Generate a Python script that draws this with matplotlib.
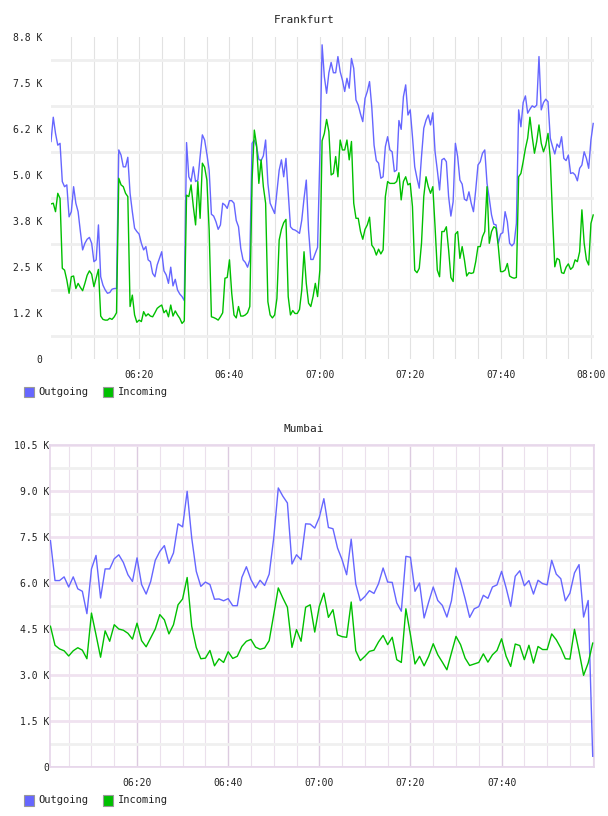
import numpy as np
import pandas as pd
import matplotlib
matplotlib.use("Agg")
import matplotlib.pyplot as plt
import matplotlib.dates as mdates
from matplotlib.patches import Rectangle

# Frankfurt traffic, one sample every 30 s from 06:00:30, values in K
frankfurt_out = [
    5.91, 6.57, 6.13, 5.81, 5.86, 4.82, 4.68, 4.73, 3.86, 4.00,
    4.68, 4.23, 4.00, 3.46, 2.96, 3.14, 3.25, 3.30, 3.14, 2.64,
    2.69, 3.64, 2.23, 2.00, 1.87, 1.78, 1.80, 1.89, 1.91, 1.91,
    5.68, 5.54, 5.22, 5.22, 5.48, 4.50, 4.00, 3.55, 3.46, 3.39,
    3.14, 2.96, 3.05, 2.69, 2.64, 2.32, 2.23, 2.55, 2.73, 2.91,
    2.39, 2.28, 2.05, 2.49, 1.98, 2.16, 1.87, 1.76, 1.69, 1.58,
    5.88, 4.95, 4.82, 5.22, 4.82, 4.86, 5.50, 6.09, 5.95, 5.57,
    5.13, 3.93, 3.88, 3.73, 3.52, 3.64, 4.23, 4.18, 4.09, 4.30,
    4.30, 4.23, 3.76, 3.59, 3.00, 2.69, 2.62, 2.49, 2.69, 5.86,
    5.95, 5.77, 5.42, 5.39, 5.52, 5.95, 4.77, 4.23, 4.09, 3.95,
    4.54, 5.13, 5.41, 4.95, 5.45, 4.50, 3.59, 3.52, 3.50, 3.46,
    3.41, 3.77, 4.36, 4.86, 3.50, 2.70, 2.70, 2.87, 3.03, 5.50,
    8.54, 7.67, 7.22, 7.78, 8.06, 7.78, 7.78, 8.22, 7.81, 7.58,
    7.27, 7.63, 7.36, 8.17, 7.90, 7.04, 6.90, 6.66, 6.45, 7.08,
    7.27, 7.54, 6.84, 5.81, 5.39, 5.32, 4.91, 4.95, 5.77, 6.04,
    5.68, 5.63, 5.09, 5.13, 6.48, 6.24, 7.13, 7.45, 6.63, 6.77,
    6.04, 5.22, 4.91, 4.64, 5.50, 6.27, 6.49, 6.63, 6.36, 6.69,
    5.63, 5.13, 4.59, 5.41, 5.45, 5.36, 4.41, 3.88, 4.27, 5.86,
    5.50, 4.86, 4.75, 4.34, 4.30, 4.54, 4.23, 4.00, 4.59, 5.27,
    5.36, 5.59, 5.68, 4.77, 4.36, 3.91, 3.66, 3.64, 3.14, 3.39,
    3.43, 4.00, 3.73, 3.14, 3.07, 3.14, 3.68, 6.77, 6.31, 6.97,
    7.15, 6.68, 6.79, 6.88, 6.84, 6.90, 8.22, 6.77, 6.97, 7.06,
    6.99, 6.00, 5.77, 5.57, 5.84, 5.75, 6.04, 5.45, 5.39, 5.54,
    5.04, 5.06, 5.00, 4.84, 5.18, 5.27, 5.63, 5.45, 5.18, 5.95,
    6.40,
]
frankfurt_in = [
    4.21, 4.23, 4.00, 4.50, 4.36, 2.46, 2.41, 2.14, 1.78, 2.23,
    2.25, 1.91, 2.05, 1.94, 1.85, 2.05, 2.27, 2.39, 2.30, 1.96,
    2.19, 2.43, 1.16, 1.07, 1.05, 1.05, 1.10, 1.07, 1.14, 1.25,
    4.91, 4.73, 4.68, 4.50, 4.41, 1.42, 1.73, 1.19, 0.99, 1.05,
    1.01, 1.28, 1.16, 1.22, 1.16, 1.14, 1.25, 1.37, 1.42, 1.46,
    1.25, 1.32, 1.14, 1.46, 1.16, 1.30, 1.19, 1.10, 0.96, 1.03,
    4.45, 4.41, 4.73, 4.14, 3.64, 4.82, 3.82, 5.32, 5.21, 4.86,
    3.50, 1.14, 1.12, 1.09, 1.05, 1.14, 1.25, 2.19, 2.21, 2.69,
    1.78, 1.19, 1.11, 1.42, 1.16, 1.16, 1.19, 1.25, 1.42, 4.86,
    6.22, 5.81, 4.77, 5.41, 4.68, 4.23, 1.55, 1.19, 1.11, 1.19,
    1.64, 3.23, 3.52, 3.70, 3.79, 1.69, 1.19, 1.31, 1.23, 1.23,
    1.34, 1.87, 2.91, 2.05, 1.51, 1.42, 1.69, 2.05, 1.69, 2.41,
    5.93, 6.13, 6.51, 6.18, 5.00, 5.04, 5.50, 4.95, 5.95, 5.68,
    5.68, 5.95, 5.41, 5.91, 4.23, 3.82, 3.82, 3.46, 3.25, 3.52,
    3.64, 3.85, 3.09, 3.00, 2.82, 2.98, 2.85, 2.96, 4.41, 4.82,
    4.77, 4.77, 4.77, 4.82, 5.06, 4.32, 4.82, 4.95, 4.73, 4.77,
    4.14, 2.41, 2.34, 2.46, 3.14, 4.41, 4.95, 4.68, 4.50, 4.68,
    3.59, 2.41, 2.23, 3.46, 3.46, 3.59, 2.96, 2.21, 2.10, 3.39,
    3.46, 2.73, 3.05, 2.69, 2.25, 2.34, 2.32, 2.34, 2.64, 3.05,
    3.05, 3.32, 3.46, 4.68, 3.14, 3.46, 3.59, 3.55, 3.05, 2.37,
    2.37, 2.41, 2.59, 2.25, 2.21, 2.19, 2.21, 4.95, 5.04, 5.36,
    5.72, 6.00, 6.57, 6.04, 5.59, 5.91, 6.36, 5.86, 5.63, 5.81,
    6.13, 5.45, 3.86, 2.50, 2.73, 2.69, 2.34, 2.32, 2.49, 2.58,
    2.43, 2.49, 2.69, 2.64, 2.91, 4.05, 3.14, 2.69, 2.55, 3.68,
    3.91,
]

# Mumbai traffic, one sample per minute from 06:01, values in K
mumbai_out = [
    7.37, 6.07, 6.07, 6.19, 5.86, 6.19, 5.80, 5.72, 4.99, 6.45,
    6.89, 5.50, 6.45, 6.45, 6.78, 6.91, 6.66, 6.26, 6.04, 6.81,
    5.94, 5.63, 6.04, 6.73, 7.02, 7.21, 6.63, 6.97, 7.92, 7.82,
    8.98, 7.46, 6.37, 5.88, 6.02, 5.94, 5.46, 5.47, 5.41, 5.48,
    5.25, 5.25, 6.17, 6.52, 6.10, 5.83, 6.08, 5.91, 6.28, 7.46,
    9.09, 8.82, 8.60, 6.61, 6.91, 6.75, 7.92, 7.91, 7.78, 8.13,
    8.74, 7.80, 7.76, 7.13, 6.75, 6.26, 7.42, 5.96, 5.41, 5.55,
    5.74, 5.65, 5.97, 6.48, 6.02, 6.01, 5.34, 5.07, 6.86, 6.83,
    5.72, 5.99, 4.85, 5.37, 5.86, 5.42, 5.26, 4.88, 5.41, 6.48,
    6.04, 5.48, 4.87, 5.15, 5.22, 5.59, 5.49, 5.86, 5.93, 6.37,
    5.83, 5.23, 6.21, 6.39, 5.90, 6.07, 5.63, 6.08, 5.97, 5.93,
    6.73, 6.28, 6.13, 5.41, 5.66, 6.32, 6.59, 4.88, 5.42, 0.34,
]
mumbai_in = [
    4.58, 3.96, 3.84, 3.78, 3.61, 3.78, 3.88, 3.80, 3.52, 5.01,
    4.30, 3.57, 4.43, 4.09, 4.63, 4.49, 4.45, 4.35, 4.16, 4.68,
    4.11, 3.91, 4.20, 4.49, 4.96, 4.79, 4.33, 4.63, 5.28, 5.47,
    6.17, 4.58, 3.89, 3.52, 3.54, 3.79, 3.29, 3.52, 3.40, 3.75,
    3.53, 3.60, 3.92, 4.09, 4.15, 3.90, 3.83, 3.87, 4.11, 4.96,
    5.83, 5.50, 5.20, 3.89, 4.47, 4.09, 5.20, 5.28, 4.39, 5.23,
    5.66, 4.87, 5.12, 4.30, 4.24, 4.22, 5.37, 3.78, 3.46, 3.60,
    3.76, 3.80, 4.07, 4.28, 3.98, 4.22, 3.49, 3.40, 5.15, 4.30,
    3.35, 3.60, 3.29, 3.60, 4.01, 3.65, 3.41, 3.16, 3.71, 4.25,
    3.98, 3.54, 3.30, 3.35, 3.40, 3.68, 3.41, 3.65, 3.79, 4.17,
    3.60, 3.27, 4.00, 3.95, 3.49, 3.96, 3.38, 3.92, 3.82, 3.82,
    4.33, 4.14, 3.87, 3.52, 3.51, 4.48, 3.76, 2.98, 3.38, 4.03,
]

frankfurt_time = pd.date_range("2014-01-01 06:00:30", periods=len(frankfurt_out), freq="30s")
mumbai_time = pd.date_range("2014-01-01 06:01:00", periods=len(mumbai_out), freq="60s")

W, H = 608, 816
BLUE = "#6666ff"
GREEN = "#00c000"
TEXT = "#222222"
MONO = "DejaVu Sans Mono"

plt.rcParams["font.family"] = MONO


def kfmt(v, pos=None):
    if abs(v) < 1e-9:
        return "0"
    return "%.1f K" % v


def box(left, top, right, bottom):
    return [left / W, 1 - bottom / H, (right - left) / W, (bottom - top) / H]


def legend(fig, yc):
    for x0, colour, label in [(24, BLUE, "Outgoing"), (103, GREEN, "Incoming")]:
        fig.patches.append(Rectangle((x0 / W, 1 - (yc + 5.5) / H), 10 / W, 11 / H,
                                     transform=fig.transFigure, fc=colour,
                                     ec="#999999", lw=0.8))
        fig.text((x0 + 14.5) / W, 1 - yc / H, label, va="center", ha="left",
                 fontsize=7.5, color=TEXT, family=MONO)


def t(s):
    return pd.Timestamp("2014-01-01 " + s)


fig = plt.figure(figsize=(W / 100, H / 100), dpi=100)
fig.patch.set_facecolor("white")

# ---- Frankfurt ----
ax = fig.add_axes(box(50.7, 37.1, 593.5, 358.7))
ax.plot(frankfurt_time, frankfurt_out, color=BLUE, lw=1.0, zorder=3)
ax.plot(frankfurt_time, frankfurt_in, color=GREEN, lw=1.0, zorder=4)
ax.set_xlim(t("06:00:26"), t("08:00:34"))
ax.set_ylim(0, 8.75)
ax.set_yticks(np.arange(0, 8.76, 1.25))
ax.set_yticks(np.arange(0.625, 8.75, 1.25), minor=True)
ax.yaxis.set_major_formatter(plt.FuncFormatter(kfmt))
ax.xaxis.set_major_locator(mdates.MinuteLocator(byminute=[0, 20, 40]))
ax.xaxis.set_minor_locator(mdates.MinuteLocator(byminute=range(0, 60, 5)))
ax.xaxis.set_major_formatter(mdates.DateFormatter("%H:%M"))
ax.grid(True, which="minor", axis="y", color="#efefef", lw=2.0, zorder=0)
ax.grid(True, which="both", axis="x", color="#e2e2e2", lw=0.8, zorder=0)
for s in ax.spines.values():
    s.set_visible(False)
ax.tick_params(which="both", length=0, labelsize=7, colors=TEXT)
ax.tick_params(axis="y", pad=6)
ax.tick_params(axis="x", pad=8)
ax.set_axisbelow(True)
fig.text(0.5, 1 - 20 / H, "Frankfurt", ha="center", va="center",
         fontsize=8, color=TEXT)
legend(fig, 392)

# ---- Mumbai ----
bx = fig.add_axes(box(50.3, 444.7, 594, 766.7))
bx.plot(mumbai_time, mumbai_out, color=BLUE, lw=1.0, zorder=3)
bx.plot(mumbai_time, mumbai_in, color=GREEN, lw=1.0, zorder=4)
bx.set_xlim(t("06:00:58"), t("08:00:17"))
bx.set_ylim(0, 10.5)
bx.set_yticks(np.arange(0, 10.51, 1.5))
bx.set_yticks(np.arange(0.75, 10.5, 1.5), minor=True)
bx.yaxis.set_major_formatter(plt.FuncFormatter(kfmt))
bx.set_xticks([t(s) for s in ["06:20", "06:40", "07:00", "07:20", "07:40"]])
bx.xaxis.set_minor_locator(mdates.MinuteLocator(byminute=range(0, 60, 5)))
bx.xaxis.set_major_formatter(mdates.DateFormatter("%H:%M"))
bx.grid(True, which="major", axis="y", color="#f0e2f0", lw=2.0, zorder=0)
bx.grid(True, which="minor", axis="y", color="#f0f0f0", lw=2.0, zorder=0)
bx.grid(True, which="major", axis="x", color="#dccbe0", lw=1.0, zorder=0)
bx.grid(True, which="minor", axis="x", color="#ebe0ec", lw=0.8, zorder=0)
for s in bx.spines.values():
    s.set_color("#e6d6ea")
    s.set_linewidth(1.2)
bx.tick_params(which="both", length=0, labelsize=7, colors=TEXT)
bx.tick_params(axis="y", pad=1)
bx.tick_params(axis="x", pad=8)
bx.set_axisbelow(True)
fig.text(0.5, 1 - 428.5 / H, "Mumbai", ha="center", va="center",
         fontsize=8, color=TEXT)
legend(fig, 800)

fig.savefig("out.png", dpi=100, facecolor="white")
